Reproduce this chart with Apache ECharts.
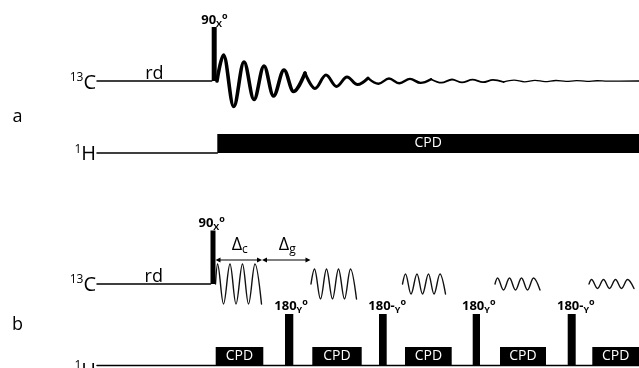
<!DOCTYPE html>
<html><head><meta charset="utf-8">
<script src="https://cdn.jsdelivr.net/npm/echarts@6/dist/echarts.min.js"></script>
<style>html,body{margin:0;padding:0;background:#fff}#c{width:639px;height:368px}</style>
</head><body><div id="c"></div>
<script>
// ---------------- data: time positions on the sequence axis and signal amplitudes ----------------
// text content
const channelLabels = [['13', 'C'], ['1', 'H']];
const panelLabels = ['a', 'b'];
const relaxLabel = 'rd';
const decoupleLabel = 'CPD';
const pulse90Label = ['90', 'X', 'o'];
const pulse180Labels = [['180', 'Y', 'o'], ['180-', 'Y', 'o'], ['180', 'Y', 'o'], ['180-', 'Y', 'o']];
const delayLabels = [['\u0394', 'c'], ['\u0394', 'g']];

// panel a
const aRelaxC = [97, 211.7];               // rd on 13C
const aRelaxH = [97, 217.3];               // 1H before decoupling
const aPulse90 = [211.7, 216.7];           // 90x pulse start/end
const aPulse90Amp = 54;
const aCPD = [217.3, 639];                 // continuous decoupling
const aCPDAmp = 19;
const fidX = [217, 223.5, 233.7, 244, 254, 264, 273.5, 284, 293.5, 305, 315, 326, 336.5, 347, 357.5,
  368, 378.5, 389, 399.5, 410, 420.5, 431, 441.5, 452, 462, 472.5, 483, 493, 503.5, 514, 524.5,
  535, 545, 556, 566, 576.5, 587, 597, 607.5, 639];
const fidAmp = [0, 26, -25.5, 19, -18.5, 15, -15, 11, -10.5, 8, -7.5, 6, -5.5, 4, -3.6,
  2.9, -2.7, 2.5, -2.3, 2.1, -1.9, 1.8, -1.7, 1.5, -1.4, 1.3, -1.2, 1.1, -1, 0.9, -0.8,
  0.7, -0.6, 0.5, -0.45, 0.4, -0.3, 0.25, -0.2, 0];

// panel b
const bRelaxC = [97, 210.5];
const bLineH = [97, 639];
const bPulse90 = [210.5, 215.5];
const bPulse90Amp = 53.5;
const deltaC = [215.5, 262];
const deltaG = [262, 310.5];
const echoX = [
  [215.5, 217.5, 223.5, 230, 236, 242.5, 248.5, 255, 261.5],
  [311, 314.5, 320.5, 326.5, 332.5, 338.5, 344.5, 350.5, 356.5],
  [402.5, 405.5, 411, 417, 422.5, 428.5, 434, 440, 445.5],
  [495, 497.5, 503.5, 509.5, 515.5, 521.5, 527.5, 533.5, 540],
  [589, 591.5, 597.5, 603.5, 609.5, 615.5, 621.5, 627.5, 634]
];
const echoAmp = [20, 15, 10, 6, 4.5];
const pulse180 = [[285, 293.3], [379, 386.7], [472.7, 480], [567.7, 575.7]];
const pulse180Amp = 51.5;
const bCPD = [[215.7, 263.3], [312.3, 361.7], [405, 451.7], [500, 546], [592.3, 639]];
const bCPDAmp = 18.5;

// ---------------- layout (not data) ----------------
const L = { rowAC: 81, rowAH: 153, rowBC: 284, rowBH: 365.5, arrowY: 260, panelX: 17.5 };
const FONT = '"Open Sans", "Noto Sans", sans-serif';

const series = [];
function lineSeries(points, width, smooth, color) {
  const s = {
    type: 'line', data: points, showSymbol: false, symbol: 'none',
    smooth: smooth ? 0.36 : false,
    lineStyle: { color: color || '#000', width: width, cap: 'round', join: 'round' },
    silent: true, animation: false, clip: false, z: 2
  };
  if (smooth) s.smoothMonotone = 'x';
  return s;
}

// channel base lines
series.push(lineSeries([[aRelaxC[0], L.rowAC], [aRelaxC[1], L.rowAC]], 1.5));
series.push(lineSeries([[aRelaxH[0], L.rowAH], [aRelaxH[1], L.rowAH]], 1.5));
series.push(lineSeries([[bRelaxC[0], L.rowBC], [bRelaxC[1], L.rowBC]], 1.5));
series.push(lineSeries([[bLineH[0], L.rowBH], [bLineH[1], L.rowBH]], 1.5));

// FID (tapering stroke)
const fidPts = fidX.map((x, i) => [x, L.rowAC - fidAmp[i]]);
[[0, 9, 3.6], [9, 15, 3], [15, 21, 2.4], [21, 28, 1.8], [28, fidX.length - 1, 1.3]].forEach(seg => {
  series.push(lineSeries(fidPts.slice(seg[0], seg[1] + 1), seg[2], true));
});

// echoes
echoX.forEach((xs, k) => {
  const pts = xs.map((x, i) => [x, L.rowBC - (i === 0 ? 0 : (i % 2 === 1 ? echoAmp[k] : -echoAmp[k]))]);
  series.push(lineSeries(pts, 1.4, true, '#111'));
});

// ---------------- shapes & labels (custom series) ----------------
const shapes = [];
function rect(x0, x1, base, amp, text) { shapes.push({ kind: 'rect', x0, x1, yTop: base - amp, yBot: base, text }); }
function txt(x, y, dx, dy, style) { shapes.push({ kind: 'text', x, y, dx, dy, style }); }

rect(aPulse90[0], aPulse90[1], L.rowAC, aPulse90Amp);
rect(aCPD[0], aCPD[1], L.rowAH, aCPDAmp, decoupleLabel);
rect(bPulse90[0], bPulse90[1], L.rowBC, bPulse90Amp);
pulse180.forEach(p => rect(p[0], p[1], L.rowBH, pulse180Amp));
bCPD.forEach(p => rect(p[0], p[1], L.rowBH, bCPDAmp, decoupleLabel));
shapes.push({ kind: 'arrow', x0: deltaC[0], x1: deltaC[1], y: L.arrowY });
shapes.push({ kind: 'arrow', x0: deltaG[0], x1: deltaG[1], y: L.arrowY });

const nucRich = {
  s: { fontSize: 12, lineHeight: 12, verticalAlign: 'top', fontFamily: FONT },
  c: { fontSize: 20, lineHeight: 22, verticalAlign: 'middle', fontFamily: FONT }
};
const pulseRich = {
  n: { fontSize: 13, fontWeight: 'bold', lineHeight: 17, verticalAlign: 'middle', fontFamily: FONT },
  s: { fontSize: 9, fontWeight: 'bold', lineHeight: 9, verticalAlign: 'bottom', fontFamily: FONT },
  o: { fontSize: 9, fontWeight: 'bold', lineHeight: 9, verticalAlign: 'top', fontFamily: FONT }
};
const deltaRich = {
  d: { fontSize: 18, lineHeight: 22, verticalAlign: 'middle', fontFamily: FONT },
  s: { fontSize: 12, lineHeight: 12, verticalAlign: 'bottom', fontFamily: FONT }
};
const nucText = l => '{s|' + l[0] + '}{c|' + l[1] + '}';
const pulseText = l => '{n|' + l[0] + '}{s|' + l[1] + '}{o|' + l[2] + '}';

// panel a labels
txt(aRelaxC[0], L.rowAC, -1, 2, { text: nucText(channelLabels[0]), rich: nucRich, align: 'right' });
txt(aRelaxH[0], L.rowAH, -1, 1.7, { text: nucText(channelLabels[1]), rich: nucRich, align: 'right' });
txt((aRelaxC[0] + aRelaxC[1]) / 2, L.rowAC, 0, -7, { text: relaxLabel, fontSize: 18 });
txt(L.panelX, (L.rowAC + L.rowAH) / 2, 0, 0, { text: panelLabels[0], fontSize: 18 });
txt(aPulse90[0], L.rowAC - aPulse90Amp, -10.5, -7, { text: pulseText(pulse90Label), rich: pulseRich, align: 'left' });

// panel b labels
txt(bRelaxC[0], L.rowBC, -1, 1, { text: nucText(channelLabels[0]), rich: nucRich, align: 'right' });
txt(bLineH[0], L.rowBH, -1, 5.5, { text: nucText(channelLabels[1]), rich: nucRich, align: 'right' });
txt((bRelaxC[0] + bRelaxC[1]) / 2, L.rowBC, 0, -7, { text: relaxLabel, fontSize: 18 });
txt(L.panelX, (L.rowBC + L.rowBH) / 2, 0, 0, { text: panelLabels[1], fontSize: 18 });
txt(bPulse90[0], L.rowBC - bPulse90Amp, -12, -7, { text: pulseText(pulse90Label), rich: pulseRich, align: 'left' });
pulse180.forEach((p, i) => {
  txt(p[0], L.rowBH - pulse180Amp, -10.7, -8, { text: pulseText(pulse180Labels[i]), rich: pulseRich, align: 'left' });
});
[deltaC, deltaG].forEach((d, i) => {
  txt((d[0] + d[1]) / 2, L.arrowY, 1, -15, { text: '{d|' + delayLabels[i][0] + '}{s|' + delayLabels[i][1] + '}', rich: deltaRich });
});

function renderItem(params, api) {
  const s = shapes[params.dataIndex];
  if (s.kind === 'rect') {
    const p0 = api.coord([s.x0, s.yTop]);
    const p1 = api.coord([s.x1, s.yBot]);
    const children = [{ type: 'rect', shape: { x: p0[0], y: p0[1], width: p1[0] - p0[0], height: p1[1] - p0[1] }, style: { fill: '#000' } }];
    if (s.text) {
      children.push({ type: 'text', x: (p0[0] + p1[0]) / 2, y: (p0[1] + p1[1]) / 2,
        style: { text: s.text, fill: '#fff', fontSize: 14, fontFamily: FONT, align: 'center', verticalAlign: 'middle' } });
    }
    return { type: 'group', children };
  }
  if (s.kind === 'arrow') {
    const p0 = api.coord([s.x0, s.y]);
    const p1 = api.coord([s.x1, s.y]);
    const AL = 5, AW = 2.5;
    return { type: 'group', children: [
      { type: 'line', shape: { x1: p0[0] + 2, y1: p0[1], x2: p1[0] - 2, y2: p1[1] }, style: { stroke: '#000', lineWidth: 1.1 } },
      { type: 'polygon', shape: { points: [[p0[0], p0[1]], [p0[0] + AL, p0[1] - AW], [p0[0] + AL, p0[1] + AW]] }, style: { fill: '#000' } },
      { type: 'polygon', shape: { points: [[p1[0], p1[1]], [p1[0] - AL, p1[1] - AW], [p1[0] - AL, p1[1] + AW]] }, style: { fill: '#000' } }
    ] };
  }
  const p = api.coord([s.x, s.y]);
  return { type: 'text', x: p[0] + s.dx, y: p[1] + s.dy,
    style: Object.assign({ fill: '#000', align: 'center', verticalAlign: 'middle', fontFamily: FONT }, s.style) };
}

series.push({
  type: 'custom', coordinateSystem: 'cartesian2d',
  data: shapes.map((s, i) => [i, 0]),
  renderItem, silent: true, animation: false, clip: false, z: 3
});

const chart = echarts.init(document.getElementById('c'));
chart.setOption({
  backgroundColor: '#fff',
  animation: false,
  grid: { left: 0, right: 0, top: 0, bottom: 0, containLabel: false },
  xAxis: { type: 'value', min: 0, max: 639, show: false },
  yAxis: { type: 'value', min: 0, max: 368, inverse: true, show: false },
  series
});
</script>
</body></html>
